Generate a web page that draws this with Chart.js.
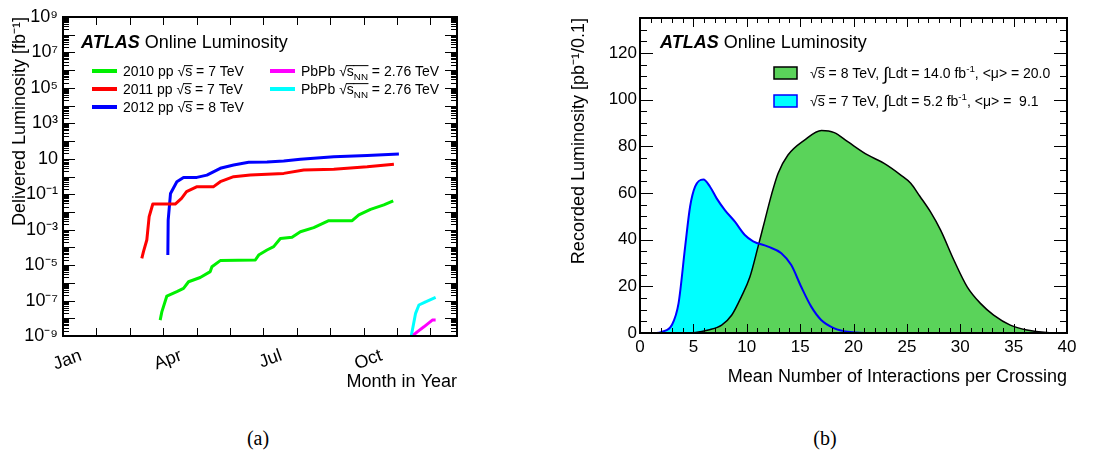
<!DOCTYPE html>
<html>
<head>
<meta charset="utf-8">
<script src="https://cdn.jsdelivr.net/npm/chart.js@4.4.1/dist/chart.umd.min.js"></script>
<style>
  body { margin: 0; background: #fff; }
  canvas { position: absolute; top: 0; }
  #lumiChart { left: 0; }
  #muChart { left: 548px; }
  .cap { position: absolute; top: 427px; width: 60px; text-align: center; font: 20px "Liberation Serif", "DejaVu Serif", serif; }
</style>
</head>
<body>
<canvas id="lumiChart" width="548" height="400"></canvas>
<canvas id="muChart" width="547" height="400"></canvas>
<div class="cap" style="left:228px">(a)</div>
<div class="cap" style="left:795px">(b)</div>
<script>
var FONT = '"Liberation Sans", Arial, Helvetica, sans-serif';
Chart.defaults.font.family = FONT;
Chart.defaults.color = '#000';

// (a) delivered luminosity [fb^-1] vs month of year (0 = 1 Jan)
var month2010 = [2.91, 2.96, 3.11, 3.41, 3.61, 3.76, 4.11, 4.41, 4.46, 4.71, 5.76, 5.86, 6.11, 6.31, 6.51, 6.86, 7.11, 7.51, 7.96, 8.66, 8.86, 9.21, 9.61, 9.89];
var lumi2010 = [7.9e-9, 2.3e-8, 1.8e-7, 3.2e-7, 4.9e-7, 1.15e-6, 2.0e-6, 4.3e-6, 8.1e-6, 1.8e-5, 1.95e-5, 3.7e-5, 7.1e-5, 1.1e-4, 3.2e-4, 3.7e-4, 7.6e-4, 1.3e-3, 3.2e-3, 3.2e-3, 6.8e-3, 0.014, 0.025, 0.042];
var month2011 = [2.36, 2.41, 2.51, 2.58, 2.69, 3.36, 3.55, 3.70, 4.00, 4.50, 4.71, 5.11, 5.61, 6.61, 7.21, 8.11, 9.11, 9.91];
var lumi2011 = [2.4e-5, 5.8e-5, 2.6e-4, 5.4e-3, 0.028, 0.028, 0.059, 0.14, 0.26, 0.26, 0.51, 0.98, 1.2, 1.5, 2.3, 2.6, 3.5, 4.9];
var month2012 = [3.14, 3.15, 3.22, 3.41, 3.61, 4.01, 4.31, 4.71, 5.11, 5.56, 6.11, 6.61, 7.11, 8.11, 9.11, 10.06];
var lumi2012 = [3.7e-5, 3.5e-3, 0.11, 0.51, 0.89, 0.89, 1.2, 2.9, 4.5, 6.3, 6.6, 7.4, 9.3, 13.2, 15.5, 18.6];
var monthPbPbM = [10.49, 10.61, 10.81, 11.06, 11.16];
var lumiPbPbM = [1.1e-9, 1.7e-9, 3.3e-9, 7.9e-9, 7.9e-9];
var monthPbPbC = [10.43, 10.56, 10.66, 10.86, 11.16];
var lumiPbPbC = [1.0e-9, 1.9e-8, 5.6e-8, 8.5e-8, 1.5e-7];
var runLabels = ['2010 pp #sqrt{s} = 7 TeV', '2011 pp #sqrt{s} = 7 TeV', '2012 pp #sqrt{s} = 8 TeV',
                 'PbPb #sqrt{s_{NN}} = 2.76 TeV', 'PbPb #sqrt{s_{NN}} = 2.76 TeV'];
var monthTickValues = [0, 3, 6, 9];
var monthTickLabels = ['Jan', 'Apr', 'Jul', 'Oct'];
var logTickValues = [1e-9, 1e-7, 1e-5, 1e-3, 1e-1, 10, 1e3, 1e5, 1e7, 1e9];
var logTickLabels = ['10⁻⁹', '10⁻⁷', '10⁻⁵', '10⁻³', '10⁻¹', '10', '10³', '10⁵', '10⁷', '10⁹'];

// (b) recorded luminosity [pb^-1/0.1] vs mean interactions per crossing
var mu8 = [0, 4, 5.2, 6.4, 7.65, 8.6, 9.5, 10.3, 11.06, 11.7, 12.3, 12.93, 13.86, 15.41, 17.0, 18.2, 19.46, 21.32, 22.87, 24.43, 25.36, 26.2, 27.2, 28.16, 29.4, 30.65, 31.89, 33.13, 34.69, 36.24, 38.1, 40];
var lumi8 = [0, 0, 0.2, 1.3, 3.4, 7.7, 15.6, 24.1, 37, 48.4, 59, 68.4, 76.3, 82.7, 86.8, 85.9, 82, 76.3, 72.7, 67.7, 64.2, 58.7, 52, 44.1, 31.3, 19.8, 12.7, 7.7, 3.4, 1.3, 0.2, 0];
var mu7 = [0, 1.5, 2.05, 2.98, 3.61, 4.23, 4.69, 5.16, 5.94, 6.56, 7.18, 7.95, 8.89, 9.82, 10.6, 12, 13.24, 14.17, 15.1, 16.04, 16.97, 18.21, 19.46, 21, 40];
var lumi7 = [0, 0, 0.5, 3.4, 12.7, 37, 54.1, 62.7, 65.8, 62.7, 57.7, 52.7, 47.7, 42, 39.3, 37, 34.2, 29.1, 19.8, 11.3, 5.6, 2, 0.5, 0, 0];
var muLabels = ['#sqrt{s} = 8 TeV, ∫Ldt = 14.0 fb^{-1}, <μ> = 20.0', '#sqrt{s} = 7 TeV, ∫Ldt = 5.2 fb^{-1}, <μ> =  9.1'];

function pairs(xs, ys) {
  return xs.map(function (x, i) { return { x: x, y: ys[i] }; });
}

// tiny markup: #sqrt{..} gets a root sign and overline, _{..} sub, ^{..} sup
function parseRich(s) {
  var out = [], buf = '', over = false, i = 0;
  function push(t, mode) { if (t) out.push({ text: t, mode: mode, over: over }); }
  while (i < s.length) {
    if (s.indexOf('#sqrt{', i) === i) {
      push(buf, 'n'); buf = '';
      out.push({ text: '√', mode: 'n', over: false });
      over = true; i += 6; continue;
    }
    if ((s[i] === '_' || s[i] === '^') && s[i + 1] === '{') {
      push(buf, 'n'); buf = '';
      var j = s.indexOf('}', i);
      push(s.slice(i + 2, j), s[i] === '_' ? 'sub' : 'sup');
      i = j + 1; continue;
    }
    if (s[i] === '}' && over) { push(buf, 'n'); buf = ''; over = false; i++; continue; }
    if (s[i] === '∫') { push(buf, 'n'); buf = ''; push('∫', 'big'); i++; continue; }
    buf += s[i]; i++;
  }
  push(buf, 'n');
  return out;
}

function drawRich(ctx, str, x, base, size) {
  ctx.textBaseline = 'alphabetic';
  ctx.textAlign = 'left';
  parseRich(str).forEach(function (sg) {
    var fs = sg.mode === 'n' ? size : (sg.mode === 'big' ? size * 1.3 : size * 0.7);
    var dy = sg.mode === 'sub' ? size * 0.25 : (sg.mode === 'sup' ? -size * 0.42 : (sg.mode === 'big' ? size * 0.12 : 0));
    ctx.font = fs + 'px ' + FONT;
    ctx.fillText(sg.text, x, base + dy);
    var w = ctx.measureText(sg.text).width;
    if (sg.over) ctx.fillRect(x - 0.5, base - size * 0.78, w + 1, 1);
    x += w;
  });
  return x;
}

function drawAtlas(ctx, x, cy, size) {
  ctx.fillStyle = '#000';
  ctx.textBaseline = 'middle';
  ctx.textAlign = 'left';
  ctx.font = 'italic bold ' + size + 'px ' + FONT;
  ctx.fillText('ATLAS', x, cy);
  var w = ctx.measureText('ATLAS ').width;
  ctx.font = size + 'px ' + FONT;
  ctx.fillText('Online Luminosity', x + w, cy);
}

// frame and inward ticks on all four sides, placed from the scales' own ticks
function drawFrame(chart, len) {
  var ctx = chart.ctx, a = chart.chartArea, sx = chart.scales.x, sy = chart.scales.y;
  var i, t, p, l;
  ctx.fillStyle = '#000';
  for (i = 0; i < sx.ticks.length; i++) {
    t = sx.ticks[i];
    p = Math.round(sx.getPixelForValue(t.value));
    l = t.major ? len[0] : len[1];
    ctx.fillRect(p, a.bottom - l, 1, l);
    ctx.fillRect(p, a.top, 1, l);
  }
  for (i = 0; i < sy.ticks.length; i++) {
    t = sy.ticks[i];
    p = Math.round(sy.getPixelForValue(t.value));
    l = t.major ? len[2] : len[3];
    ctx.fillRect(a.left, p, l, 1);
    ctx.fillRect(a.right - l, p, l, 1);
  }
  ctx.strokeStyle = '#000';
  ctx.lineWidth = 2;
  ctx.strokeRect(a.left, a.top, a.right - a.left, a.bottom - a.top);
}

var lineLegend = {
  id: 'lineLegend',
  afterDraw: function (chart, args, o) {
    var ctx = chart.ctx;
    ctx.save();
    drawFrame(chart, [8, 8, 12, 6]);
    drawAtlas(ctx, o.atlasX, o.atlasY, o.atlasSize);
    o.entries.forEach(function (e) {
      var ds = chart.data.datasets[e.index];
      ctx.strokeStyle = ds.borderColor;
      ctx.lineWidth = o.sampleWidth;
      ctx.beginPath();
      ctx.moveTo(e.x, e.y);
      ctx.lineTo(e.x + o.sampleLength, e.y);
      ctx.stroke();
      ctx.fillStyle = '#000';
      drawRich(ctx, ds.label, e.x + o.textGap, e.y + o.size * 0.36, o.size);
    });
    ctx.restore();
  }
};

var boxLegend = {
  id: 'boxLegend',
  afterDraw: function (chart, args, o) {
    var ctx = chart.ctx;
    ctx.save();
    drawFrame(chart, [9, 5, 13, 7]);
    drawAtlas(ctx, o.atlasX, o.atlasY, o.atlasSize);
    o.entries.forEach(function (e) {
      var fillDs = chart.data.datasets[e.fill], lineDs = chart.data.datasets[e.line];
      ctx.fillStyle = fillDs.backgroundColor;
      ctx.fillRect(e.x, e.y - o.boxH / 2, o.boxW, o.boxH);
      ctx.strokeStyle = lineDs.borderColor;
      ctx.lineWidth = 1.5;
      ctx.strokeRect(e.x, e.y - o.boxH / 2, o.boxW, o.boxH);
      ctx.fillStyle = '#000';
      drawRich(ctx, e.label, e.x + o.textGap, e.y + o.size * 0.36, o.size);
    });
    ctx.restore();
  }
};

function lumiLine(xs, ys, label, color) {
  return { label: label, data: pairs(xs, ys), borderColor: color, backgroundColor: color,
           borderWidth: 3, pointRadius: 0, tension: 0, fill: false, borderJoinStyle: 'round' };
}

new Chart(document.getElementById('lumiChart'), {
  type: 'line',
  data: {
    datasets: [
      lumiLine(month2010, lumi2010, runLabels[0], '#00f000'),
      lumiLine(month2011, lumi2011, runLabels[1], '#ff0000'),
      lumiLine(month2012, lumi2012, runLabels[2], '#0000ff'),
      lumiLine(monthPbPbM, lumiPbPbM, runLabels[3], '#ff00ff'),
      lumiLine(monthPbPbC, lumiPbPbC, runLabels[4], '#00ffff')
    ]
  },
  options: {
    responsive: false,
    animation: false,
    events: [],
    layout: { padding: { left: 0, top: 17, right: 91, bottom: 7 } },
    scales: {
      x: {
        type: 'linear', min: 0, max: 11.8,
        grid: { display: false, drawTicks: false },
        border: { display: false },
        afterBuildTicks: function (s) {
          var t = [];
          for (var m = 0; m <= 11; m++) t.push({ value: m, major: true });
          s.ticks = t;
        },
        afterFit: function (s) { s.height = 57; },
        ticks: {
          autoSkip: false, minRotation: 20, maxRotation: 20, labelOffset: 18, padding: 9,
          font: { size: 18 },
          callback: function (v) {
            var i = monthTickValues.indexOf(v);
            return i < 0 ? '' : monthTickLabels[i];
          }
        },
        title: { display: true, text: 'Month in Year', align: 'end', font: { size: 18 }, padding: 0 }
      },
      y: {
        type: 'logarithmic', min: 1e-9, max: 1e9,
        grid: { display: false, drawTicks: false },
        border: { display: false },
        afterBuildTicks: function (s) {
          var t = [];
          for (var e = -9; e < 9; e++) {
            for (var k = 1; k < 10; k++) t.push({ value: k * Math.pow(10, e), major: k === 1 });
          }
          t.push({ value: 1e9, major: true });
          s.ticks = t;
        },
        afterFit: function (s) { s.width = 63; },
        ticks: {
          autoSkip: false, padding: 5, font: { size: 18 },
          callback: function (v) {
            for (var i = 0; i < logTickValues.length; i++) {
              if (Math.abs(Math.log10(v) - Math.log10(logTickValues[i])) < 1e-6) return logTickLabels[i];
            }
            return '';
          }
        },
        title: { display: true, text: 'Delivered Luminosity [fb⁻¹]', align: 'end', font: { size: 18 }, padding: { top: 9, bottom: 0 } }
      }
    },
    plugins: {
      legend: { display: false },
      tooltip: { enabled: false },
      lineLegend: {
        atlasX: 81, atlasY: 43, atlasSize: 18, size: 14,
        sampleLength: 25, sampleWidth: 4, textGap: 31,
        entries: [
          { index: 0, x: 92, y: 71 }, { index: 1, x: 92, y: 89 }, { index: 2, x: 92, y: 107 },
          { index: 3, x: 270, y: 71 }, { index: 4, x: 270, y: 89 }
        ]
      }
    }
  },
  plugins: [lineLegend]
});

new Chart(document.getElementById('muChart'), {
  type: 'line',
  data: {
    datasets: [
      { label: '7 TeV outline', data: pairs(mu7, lumi7), borderColor: '#0000ff', borderWidth: 2,
        pointRadius: 0, fill: false, cubicInterpolationMode: 'monotone', order: 0 },
      { label: '8 TeV', data: pairs(mu8, lumi8), borderColor: '#000000', backgroundColor: '#5ad35a',
        borderWidth: 1.5, pointRadius: 0, fill: 'origin', cubicInterpolationMode: 'monotone', order: 1 },
      { label: '7 TeV', data: pairs(mu7, lumi7), borderColor: '#0000ff', backgroundColor: '#00ffff',
        borderWidth: 0, pointRadius: 0, fill: 'origin', cubicInterpolationMode: 'monotone', order: 2 }
    ]
  },
  options: {
    responsive: false,
    animation: false,
    events: [],
    layout: { padding: { left: 0, top: 18, right: 28, bottom: 12 } },
    scales: {
      x: {
        type: 'linear', min: 0, max: 40,
        grid: { display: false, drawTicks: false },
        border: { display: false },
        afterBuildTicks: function (s) {
          var t = [];
          for (var v = 0; v <= 40; v++) t.push({ value: v, major: v % 5 === 0 });
          s.ticks = t;
        },
        afterFit: function (s) { s.height = 55; },
        ticks: {
          autoSkip: false, maxRotation: 0, padding: 4, font: { size: 17 },
          callback: function (v) { return v % 5 === 0 ? String(v) : ''; }
        },
        title: { display: true, text: 'Mean Number of Interactions per Crossing', align: 'end', font: { size: 18 }, padding: 0 }
      },
      y: {
        type: 'linear', min: 0, max: 135,
        grid: { display: false, drawTicks: false },
        border: { display: false },
        afterBuildTicks: function (s) {
          var t = [];
          for (var v = 0; v <= 135; v += 5) t.push({ value: v, major: v % 20 === 0 });
          s.ticks = t;
        },
        afterFit: function (s) { s.width = 92; },
        ticks: {
          autoSkip: false, padding: 3, font: { size: 17 },
          callback: function (v) { return v % 20 === 0 ? String(v) : ''; }
        },
        title: { display: true, text: 'Recorded Luminosity [pb⁻¹/0.1]', align: 'end', font: { size: 18 }, padding: { top: 20, bottom: 0 } }
      }
    },
    plugins: {
      legend: { display: false },
      tooltip: { enabled: false },
      boxLegend: {
        atlasX: 112, atlasY: 43, atlasSize: 18, size: 14,
        boxW: 23, boxH: 12, textGap: 36,
        entries: [
          { fill: 1, line: 1, x: 226, y: 73, label: muLabels[0] },
          { fill: 2, line: 0, x: 226, y: 101, label: muLabels[1] }
        ]
      }
    }
  },
  plugins: [boxLegend]
});
</script>
</body>
</html>
